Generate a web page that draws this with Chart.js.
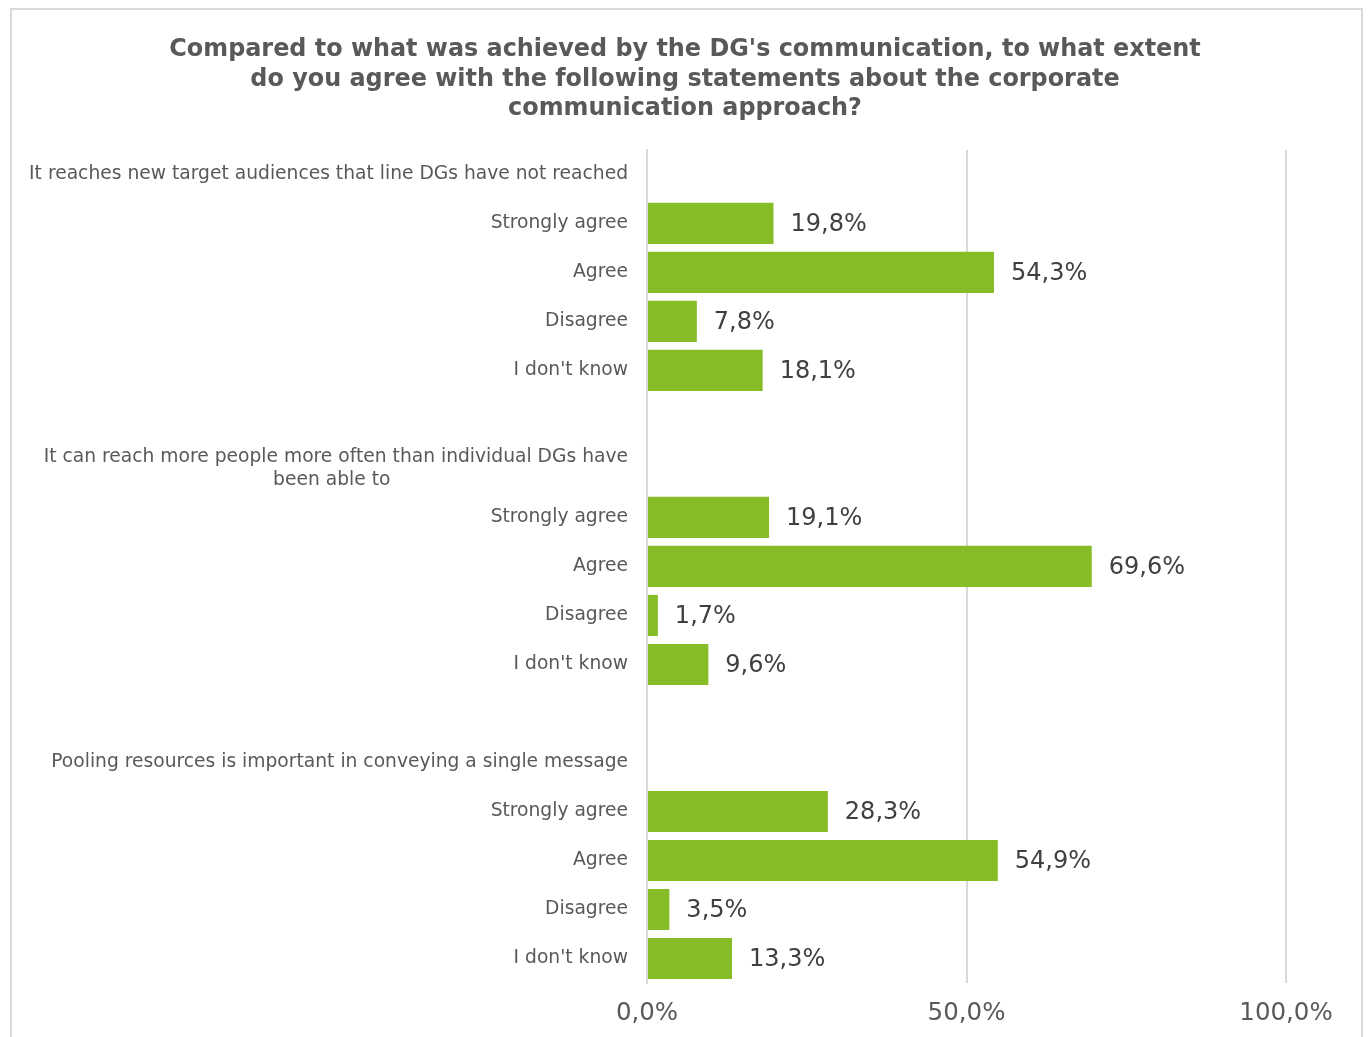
<!DOCTYPE html>
<html>
<head>
<meta charset="utf-8">
<script src="https://cdn.jsdelivr.net/npm/chart.js@4.4.1/dist/chart.umd.min.js"></script>
<style>
    html, body { margin: 0; padding: 0; background: #fff; overflow: hidden; }
    #frame { position: absolute; left: 10px; top: 8px; width: 1353px; height: 1100px; border: 2px solid #d9d9d9; box-sizing: border-box; }
    #chart { position: absolute; left: 0; top: 0; }
</style>
</head>
<body>
<div id="frame"></div>
<canvas id="chart" width="1370" height="1037"></canvas>
<script>
// Rows of the chart: question headings (no bar), answers, blank spacer rows
const headings = [
    'It reaches new target audiences that line DGs have not reached',
    ['It can reach more people more often than individual DGs have', 'been able to' + '\u00A0'.repeat(40)],
    'Pooling resources is important in conveying a single message'
];
const answers = ['Strongly agree', 'Agree', 'Disagree', "I don't know"];

const q1Values = [19.8, 54.3, 7.8, 18.1];
const q2Values = [19.1, 69.6, 1.7, 9.6];
const q3Values = [28.3, 54.9, 3.5, 13.3];

const xTicks = [0, 50, 100];

const titleLines = [
    "Compared to what was achieved by the DG's communication, to what extent",
    'do you agree with the following statements about the corporate',
    'communication approach?'
];

// build category labels + values (null rows for headings / spacers)
const labels = [];
const values = [];
[q1Values, q2Values, q3Values].forEach((vals, i) => {
    if (i > 0) { labels.push(''); values.push(null); }
    labels.push(headings[i]); values.push(null);
    answers.forEach((a, j) => { labels.push(a); values.push(vals[j]); });
});

const fmtPct = v => v.toFixed(1).replace('.', ',') + '%';

const valueLabels = {
    id: 'valueLabels',
    afterDatasetsDraw(chart) {
        const ctx = chart.ctx;
        const meta = chart.getDatasetMeta(0);
        ctx.save();
        ctx.font = '24px "DejaVu Sans"';
        ctx.fillStyle = '#404040';
        ctx.textAlign = 'left';
        ctx.textBaseline = 'middle';
        meta.data.forEach((bar, i) => {
            const v = values[i];
            if (v === null) return;
            ctx.fillText(fmtPct(v), bar.x + 17, bar.y + 1);
        });
        ctx.restore();
    }
};

// center the title on the whole canvas, not on the padded area
const fullWidthTitle = {
    id: 'fullWidthTitle',
    afterLayout(chart) {
        const t = chart.titleBlock;
        if (!t) return;
        t.left = 0;
        t.right = chart.width;
        t.width = chart.width;
    }
};

new Chart(document.getElementById('chart'), {
    type: 'bar',
    data: {
        labels,
        datasets: [{
            data: values,
            backgroundColor: '#86bc25',
            barPercentage: 0.84,
            categoryPercentage: 1
        }]
    },
    options: {
        indexAxis: 'y',
        responsive: false,
        animation: false,
        layout: { padding: { top: 0, left: 0, right: 84, bottom: 0 } },
        scales: {
            x: {
                min: 0,
                max: 100,
                afterBuildTicks: scale => { scale.ticks = xTicks.map(v => ({ value: v })); },
                afterFit: scale => { scale.height = 54; },
                grid: { color: '#d9d9d9', lineWidth: 2, drawTicks: false },
                border: { display: false },
                ticks: {
                    padding: 16,
                    color: '#595959',
                    font: { family: 'DejaVu Sans', size: 24.5 },
                    callback: v => fmtPct(v)
                }
            },
            y: {
                afterFit: scale => { scale.width = 647; },
                grid: { display: false, drawTicks: false },
                border: { display: true, color: '#d9d9d9', width: 2 },
                ticks: {
                    padding: 19,
                    color: '#595959',
                    autoSkip: false,
                    font: { family: 'DejaVu Sans', size: 18.7, lineHeight: 1.23 }
                }
            }
        },
        plugins: {
            legend: { display: false },
            tooltip: { enabled: false },
            title: {
                display: true,
                text: titleLines,
                color: '#595959',
                font: { family: 'DejaVu Sans', size: 23.9, weight: 'bold', lineHeight: 1.24 },
                padding: { top: 35, bottom: 26 }
            }
        }
    },
    plugins: [valueLabels, fullWidthTitle]
});
</script>
</body>
</html>
